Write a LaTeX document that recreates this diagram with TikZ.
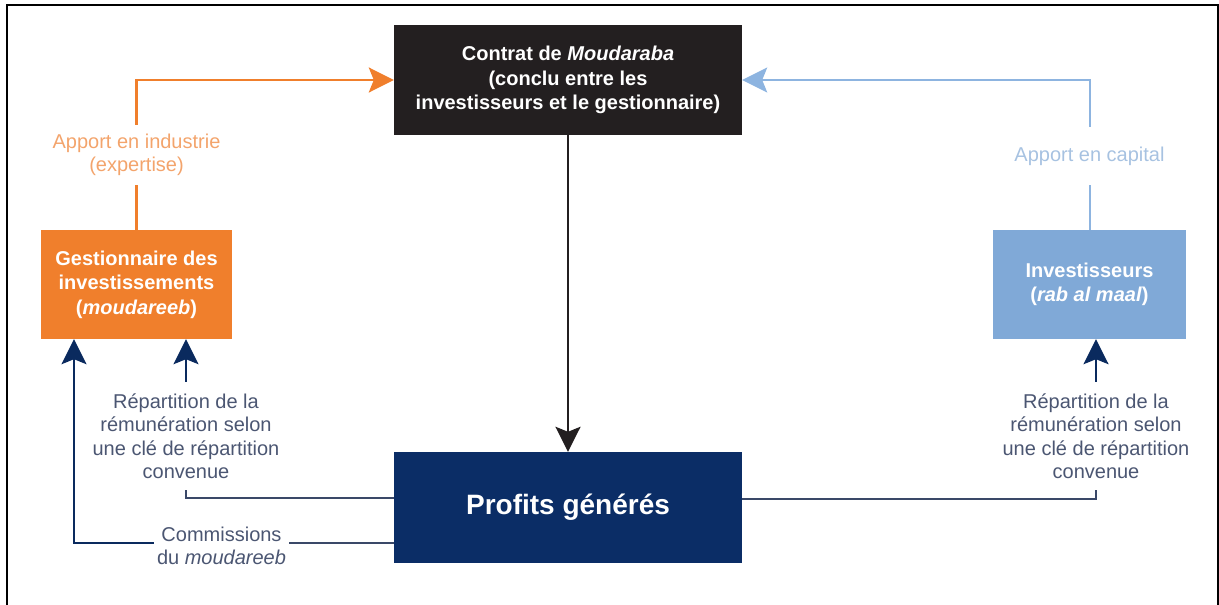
\documentclass[tikz,border=0pt]{standalone}
\usepackage{fontspec}
\setmainfont{Liberation Sans}
\usetikzlibrary{arrows.meta,calc}
\definecolor{orangeBox}{HTML}{F07F2C}
\definecolor{orangeTxt}{HTML}{F3A46C}
\definecolor{blueBox}{HTML}{80A9D7}
\definecolor{blueLine}{HTML}{8DB4E0}
\definecolor{blueTxt}{HTML}{A7C2E1}
\definecolor{navyBox}{HTML}{0B2D66}
\definecolor{navyArr}{HTML}{0A2A5E}
\definecolor{navyLine}{HTML}{3A4868}
\definecolor{navyTxt}{HTML}{4B5672}
\definecolor{blackBox}{HTML}{231F20}
\tikzset{
  tip/.style={-{Stealth[length=25pt,width=25pt,inset=5pt]}},
  box/.style={rectangle, inner sep=0pt, align=center, text=white,
    font=\fontsize{20}{24.5}\selectfont\bfseries},
  lbl/.style={inner sep=0pt, align=center, font=\fontsize{20}{23.5}\selectfont},
}
\begin{document}
\begin{tikzpicture}[x=1pt,y=-1pt]
\useasboundingbox (0,0) rectangle (1219,605);
\draw[line width=1.6pt, black] (7,605) -- (7,5) -- (1218,5) -- (1218,605);

% boxes
\node[box, fill=blackBox, minimum width=348pt, minimum height=110pt] (contrat) at (568,80)
  {Contrat de \textit{Moudaraba}\\(conclu entre les\\investisseurs et le gestionnaire)};
\node[box, fill=orangeBox, minimum width=191pt, minimum height=109pt] (gest) at (136.5,284.5)
  {Gestionnaire des\\investissements\\(\textit{moudareeb})};
\node[box, fill=blueBox, minimum width=193pt, minimum height=109pt] (invest) at (1089.5,284.5)
  {Investisseurs\\(\textit{rab al maal})};
\node[box, fill=navyBox, minimum width=348pt, minimum height=111pt,
  font=\fontsize{28}{32}\selectfont\bfseries] (profits) at (568,507.5) {Profits générés};

% labels
\node[lbl, text=orangeTxt, minimum height=60pt] (lblO) at (136.5,155) {Apport en industrie\\(expertise)};
\node[lbl, text=blueTxt, minimum height=58pt] (lblB) at (1089.5,156) {Apport en capital};
\node[lbl, text=navyTxt, minimum height=108pt] (lblL) at (186,436)
  {Répartition de la\\rémunération selon\\une clé de répartition\\convenue};
\node[lbl, text=navyTxt, minimum height=108pt] (lblR) at (1096,436)
  {Répartition de la\\rémunération selon\\une clé de répartition\\convenue};
\node[lbl, text=navyTxt, inner xsep=3pt] (lblC) at (221.5,546)
  {Commissions\\du \textit{moudareeb}};

% anchor points
\coordinate (pL1) at ([yshift=9.5pt]profits.west);
\coordinate (pL2) at ([yshift=-35.5pt]profits.west);
\coordinate (pR) at ([yshift=8.5pt]profits.east);
\coordinate (cA) at ([xshift=-62.5pt]gest.south);

% top connectors
\draw[orangeBox, line width=2.6pt] (gest.north) -- (lblO.south);
\draw[orangeBox, line width=2.6pt, tip] (lblO.north) |- (contrat.west);
\draw[blueLine, line width=2pt] (invest.north) -- (lblB.south);
\draw[blueLine, line width=2pt, tip] (lblB.north) |- (contrat.east);
\draw[blackBox, line width=2.6pt, tip] (contrat.south) -- (profits.north);

% bottom connectors
\draw[navyLine, line width=2.4pt] (pL1) -| (lblL.south);
\draw[navyArr, line width=2.4pt, tip] (lblL.north) -- (lblL.north |- gest.south);
\draw[navyLine, line width=2.4pt] (pL2) -- (pL2 -| lblC.east);
\draw[navyArr, line width=2.4pt, tip] (lblC.west |- pL2) -| (cA);
\draw[navyLine, line width=2.4pt] (pR) -| (lblR.south);
\draw[navyArr, line width=2.4pt, tip] (lblR.north) -- (lblR.north |- invest.south);
\end{tikzpicture}
\end{document}
